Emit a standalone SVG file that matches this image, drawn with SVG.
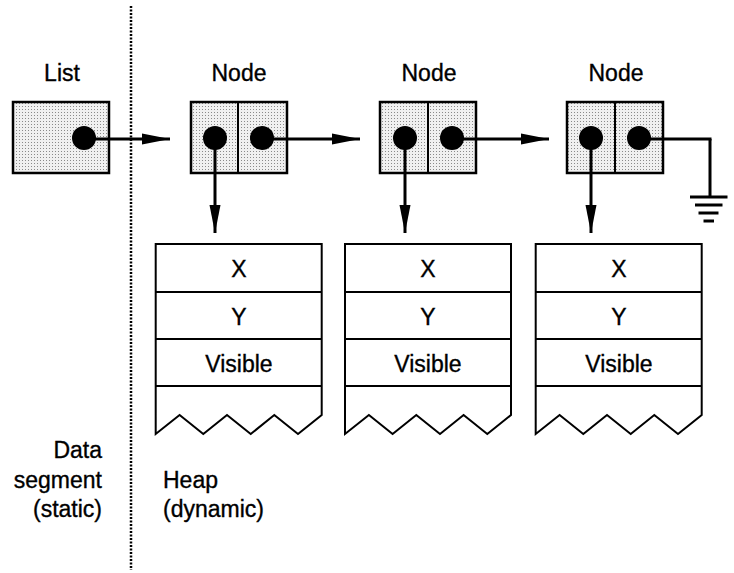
<svg xmlns="http://www.w3.org/2000/svg" width="734" height="573" viewBox="0 0 734 573">
<defs>
<pattern id="stip" width="3" height="3" patternUnits="userSpaceOnUse">
<rect width="3" height="3" fill="#f0f0f0"/>
<rect x="1" y="1" width="1" height="1" fill="#8a8a8a"/>
</pattern>
<marker id="ah" markerWidth="28" markerHeight="12" refX="28" refY="6" orient="auto" markerUnits="userSpaceOnUse">
<path d="M0,0.5 L28,6 L0,11.5 Z" fill="#000"/>
</marker>
</defs>
<style>
text{font-family:"Liberation Sans",Arial,sans-serif;font-size:23px;fill:#000;stroke:#000;stroke-width:0.35}
.c{text-anchor:middle}
.r{text-anchor:end}
.box{fill:url(#stip);stroke:#000;stroke-width:2.5}
.rec{fill:#fff;stroke:#000;stroke-width:2}
.div{stroke:#000;stroke-width:2}
.dot{fill:#000}
.arr{stroke:#000;stroke-width:3;fill:none;marker-end:url(#ah)}
.ln{stroke:#000;stroke-width:3;fill:none}
</style>
<rect width="734" height="573" fill="#fff"/>

<g id="divider">
<line x1="131" y1="6" x2="131" y2="570" stroke="#000" stroke-width="2.5" stroke-dasharray="2,1.5"/>
</g>

<g id="list">
<text class="c" x="62" y="81">List</text>
<rect class="box" x="13" y="102" width="96" height="71"/>
<circle class="dot" cx="84" cy="138" r="12"/>
</g>

<g id="node1">
<text class="c" x="239" y="81">Node</text>
<rect class="box" x="191" y="102" width="96" height="71"/>
<line class="div" x1="238" y1="102" x2="238" y2="173"/>
<circle class="dot" cx="215" cy="138" r="12"/>
<circle class="dot" cx="262" cy="138" r="12"/>
</g>

<g id="node2">
<text class="c" x="429" y="81">Node</text>
<rect class="box" x="380" y="102" width="96" height="71"/>
<line class="div" x1="428" y1="102" x2="428" y2="173"/>
<circle class="dot" cx="405" cy="138" r="12"/>
<circle class="dot" cx="452" cy="138" r="12"/>
</g>

<g id="node3">
<text class="c" x="616" y="81">Node</text>
<rect class="box" x="567" y="102" width="96" height="71"/>
<line class="div" x1="615" y1="102" x2="615" y2="173"/>
<circle class="dot" cx="591" cy="138" r="12"/>
<circle class="dot" cx="639" cy="138" r="12"/>
</g>

<g id="record1">
<path class="rec" d="M155.7,244 H321.7 V415 L298,434 L274.3,415 L250.7,434 L227,415 L203.3,434 L179.6,415 L155.7,434 Z"/>
<line class="div" x1="155.7" y1="292" x2="321.7" y2="292"/>
<line class="div" x1="155.7" y1="339" x2="321.7" y2="339"/>
<line class="div" x1="155.7" y1="386" x2="321.7" y2="386"/>
<text class="c" x="239" y="277">X</text>
<text class="c" x="239" y="325">Y</text>
<text class="c" x="239" y="372">Visible</text>
</g>

<g id="record2">
<path class="rec" d="M345,244 H511 V415 L487.3,434 L463.6,415 L440,434 L416.3,415 L392.6,434 L368.9,415 L345,434 Z"/>
<line class="div" x1="345" y1="292" x2="511" y2="292"/>
<line class="div" x1="345" y1="339" x2="511" y2="339"/>
<line class="div" x1="345" y1="386" x2="511" y2="386"/>
<text class="c" x="428" y="277">X</text>
<text class="c" x="428" y="325">Y</text>
<text class="c" x="428" y="372">Visible</text>
</g>

<g id="record3">
<path class="rec" d="M535.7,244 H701.7 V415 L678,434 L654.3,415 L630.7,434 L607,415 L583.3,434 L559.6,415 L535.7,434 Z"/>
<line class="div" x1="535.7" y1="292" x2="701.7" y2="292"/>
<line class="div" x1="535.7" y1="339" x2="701.7" y2="339"/>
<line class="div" x1="535.7" y1="386" x2="701.7" y2="386"/>
<text class="c" x="619" y="277">X</text>
<text class="c" x="619" y="325">Y</text>
<text class="c" x="619" y="372">Visible</text>
</g>

<g id="ground">
<line class="ln" x1="710" y1="139" x2="710" y2="197"/>
<line class="ln" x1="690" y1="197" x2="727.5" y2="197"/>
<line class="ln" x1="695" y1="205" x2="722.5" y2="205"/>
<line class="ln" x1="698.5" y1="213" x2="718.5" y2="213"/>
<line class="ln" x1="703.5" y1="221" x2="714" y2="221"/>
</g>

<g id="labels">
<text class="r" x="102" y="458">Data</text>
<text class="r" x="102" y="488">segment</text>
<text class="r" x="102" y="517">(static)</text>
<text x="163" y="488">Heap</text>
<text x="163" y="517">(dynamic)</text>
</g>

<g id="connectors">
<line class="arr" x1="84" y1="139" x2="170" y2="139"/>
<line class="arr" x1="262" y1="139" x2="360" y2="139"/>
<line class="arr" x1="452" y1="139" x2="549" y2="139"/>
<path class="ln" d="M639,139 H711.5"/>
<line class="arr" x1="215" y1="138" x2="215" y2="233"/>
<line class="arr" x1="405" y1="138" x2="405" y2="233"/>
<line class="arr" x1="591" y1="138" x2="591" y2="233"/>
</g>
</svg>
